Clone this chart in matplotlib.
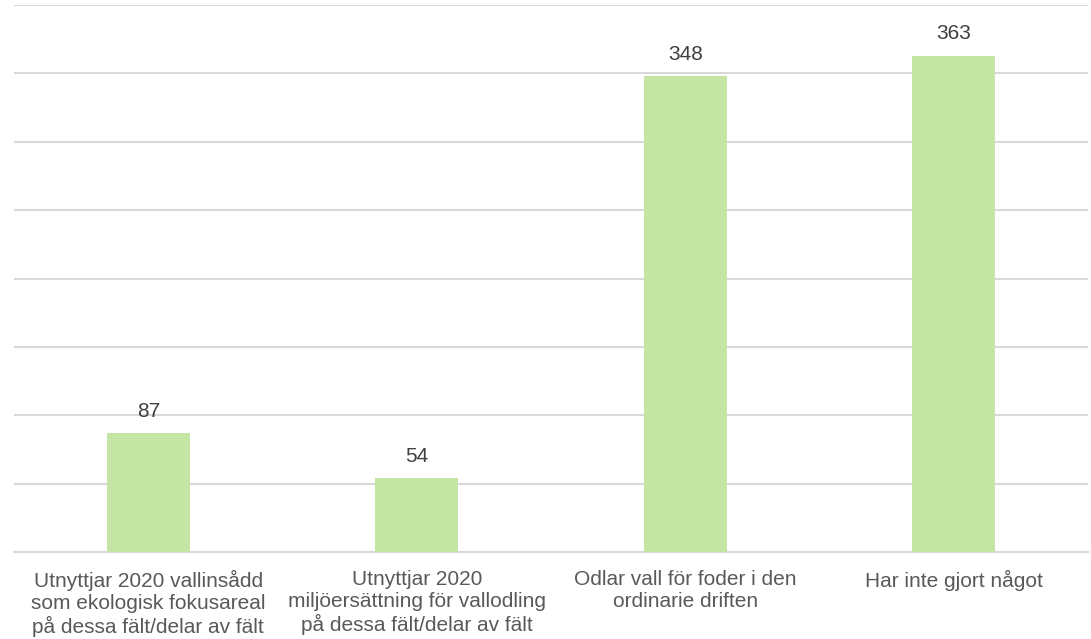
import matplotlib.pyplot as plt

categories = [
    "Utnyttjar 2020 vallinsådd\nsom ekologisk fokusareal\npå dessa fält/delar av fält",
    "Utnyttjar 2020\nmiljöersättning för vallodling\npå dessa fält/delar av fält",
    "Odlar vall för foder i den\nordinarie driften",
    "Har inte gjort något",
]
values = [87, 54, 348, 363]

plt.rcParams["font.family"] = ["Liberation Sans", "DejaVu Sans"]

fig = plt.figure(figsize=(10.91, 6.39), dpi=100)
ax = fig.add_axes([14 / 1091, 1 - 552 / 639, (1088 - 14) / 1091, (552 - 5) / 639])

x = range(len(values))
bars = ax.bar(x, values, width=0.31, color="#C5E5A4", zorder=3)

for xi, v in zip(x, values):
    ax.text(xi, v + 9, str(v), ha="center", va="bottom", fontsize=15, color="#404040")

ax.set_xlim(-0.5, 3.5)
ax.set_ylim(0, 400)
ax.set_yticks(range(0, 401, 50))
ax.set_yticklabels([])
ax.tick_params(axis="y", length=0)
ax.grid(axis="y", color="#D9D9D9", linewidth=1.5, zorder=0)

ax.set_xticks(list(x))
ax.set_xticklabels(categories, fontsize=15, color="#595959", linespacing=1.17)
ax.tick_params(axis="x", length=0, pad=13)

for s in ["top", "right", "left"]:
    ax.spines[s].set_visible(False)
ax.spines["bottom"].set_color("#D9D9D9")
ax.spines["bottom"].set_linewidth(1.5)

fig.savefig("out.png", dpi=100)
